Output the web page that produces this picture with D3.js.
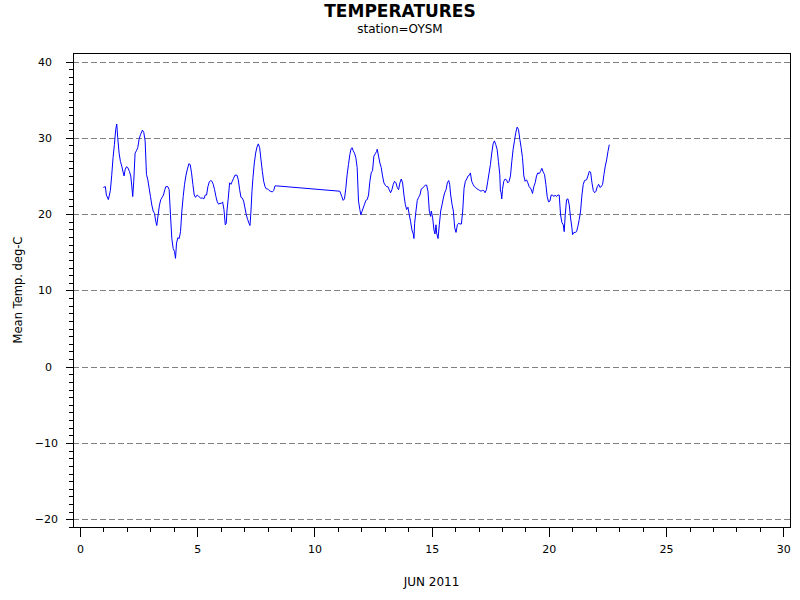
<!DOCTYPE html>
<html>
<head>
<meta charset="utf-8">
<script src="https://cdn.jsdelivr.net/npm/d3@7"></script>
<style>
  body { margin: 0; background: #fff; }
  svg { display: block; }
</style>
</head>
<body>
<svg id="chart" width="800" height="600"></svg>
<script>
// hourly-ish mean temperature readings, [day of June, deg C]
const part1 = [
  [0.996,23.5],[1.083,23.6],[1.125,22.5],[1.21,21.9],[1.296,23.1],[1.353,25.1],[1.41,27.4],
  [1.467,29.1],[1.524,31.1],[1.567,31.8],[1.61,30.0],[1.667,28.0],[1.724,26.9],[1.781,26.3],
  [1.838,25.5],[1.88,25.0],[1.923,25.8],[1.98,26.2],[2.037,26.1],[2.108,25.6],[2.165,25.0],
  [2.208,23.7],[2.25,22.3],[2.293,24.3],[2.35,28.0],[2.407,28.3],[2.464,28.7],[2.521,29.8],
  [2.578,30.4],[2.664,31.0],[2.721,30.7],[2.778,29.6],[2.835,25.2],[2.892,24.5],[2.949,23.4],
  [3.006,22.3],[3.063,21.2],[3.12,20.4],[3.177,20.1],[3.234,19.0],[3.276,18.5],[3.333,19.9],
  [3.39,21.2],[3.447,21.9],[3.504,22.2],[3.561,22.5],[3.618,23.2],[3.66,23.6],[3.746,23.6],
  [3.803,23.2],[3.86,19.9],[3.917,16.8],[3.974,15.5],[4.031,15.1],[4.074,14.2],[4.117,16.2],
  [4.174,16.9],[4.231,16.8],[4.288,17.7],[4.345,20.4],[4.402,22.3],[4.459,23.9],[4.516,25.0],
  [4.573,25.8],[4.644,26.6],[4.701,26.5],[4.758,25.4],[4.815,23.9],[4.872,22.5],[4.929,22.2],
  [5.0,22.5],[5.071,22.3],[5.142,22.1],[5.228,22.1],[5.285,22.0],[5.342,22.5],[5.399,22.5],
  [5.456,23.6],[5.513,24.2],[5.57,24.4],[5.627,24.3],[5.684,23.9],[5.741,23.2],[5.798,22.3],
  [5.855,21.6],[5.912,21.3],[5.969,21.4],[6.026,21.4],[6.083,21.6],[6.14,20.6]
];
const part2 = [
  [6.197,18.6],[6.24,18.8],[6.268,20.4],[6.325,22.1],[6.382,24.1],[6.439,23.9],[6.496,24.3],
  [6.553,24.7],[6.61,25.1],[6.695,25.1],[6.752,24.5],[6.809,23.2],[6.866,22.2],[6.923,22.1],
  [6.98,21.7],[7.037,20.8],[7.094,19.9],[7.151,19.3],[7.208,18.8],[7.251,18.5],[7.293,20.4],
  [7.336,23.0],[7.379,24.8],[7.436,26.7],[7.493,28.0],[7.55,28.8],[7.607,29.2],[7.664,28.7],
  [7.721,27.1],[7.778,25.6],[7.835,24.3],[7.892,23.6],[7.949,23.3],[8.006,23.3],[8.063,23.1],
  [8.12,23.0],[8.205,22.9],[8.262,23.1],[8.319,23.7],[8.376,23.7],[11.083,23.0]
];
const part3 = [
  [11.168,22.3],[11.225,21.8],[11.282,22.0],[11.339,23.4],[11.396,25.2],[11.453,26.5],
  [11.51,27.8],[11.567,28.6],[11.61,28.7],[11.652,28.3],[11.709,28.0],[11.766,27.4],
  [11.823,26.1],[11.88,21.7],[11.937,20.6],[11.98,19.9],[12.023,20.3],[12.08,20.8],
  [12.137,21.3],[12.194,21.8],[12.251,21.9],[12.308,22.5],[12.365,24.3],[12.422,25.4],
  [12.479,25.7],[12.536,27.6],[12.593,27.9],[12.65,28.2],[12.678,28.5],[12.735,27.6],
  [12.792,26.7],[12.849,26.1],[12.906,25.0],[12.963,24.1],[13.02,23.8],[13.077,23.6],
  [13.134,23.6],[13.191,23.2],[13.248,22.8],[13.305,23.2],[13.362,23.9],[13.419,24.3],
  [13.476,24.1],[13.533,23.5],[13.59,23.2],[13.647,24.1],[13.704,24.6],[13.761,24.1],
  [13.818,22.5],[13.875,21.3],[13.932,20.6],[13.989,20.9],[14.046,19.9],[14.103,19.0],
  [14.16,17.9],[14.217,17.4],[14.245,16.8],[14.274,18.8],[14.331,20.4],[14.387,21.8],
  [14.444,22.2],[14.501,22.5],[14.558,23.3],[14.615,23.4],[14.672,23.6],[14.729,23.8],
  [14.786,23.8],[14.843,23.0],[14.9,20.4],[14.957,19.7],[14.986,20.4],[15.043,19.5],
  [15.1,17.9],[15.142,17.4],[15.185,18.6],[15.214,17.5],[15.271,16.8],[15.328,18.6],
  [15.385,20.4],[15.442,21.2],[15.499,22.1],[15.556,22.8],[15.613,23.2],[15.67,24.1],
  [15.727,24.4],[15.769,23.9],[15.812,22.5],[15.869,21.3],[15.926,20.4],[15.983,18.2],
  [16.04,17.6],[16.097,18.6],[16.154,18.8],[16.211,18.7],[16.268,18.7],[16.325,20.4],
  [16.382,23.4],[16.439,24.3],[16.496,24.6],[16.553,25.0],[16.61,25.1],[16.652,25.4]
];
const part4 = [
  [16.709,24.3],[16.766,23.9],[16.823,23.6],[16.88,23.5],[16.937,23.3],[16.994,23.2],
  [17.051,23.1],[17.108,23.0],[17.165,23.1],[17.222,23.1],[17.279,22.8],[17.336,23.2],
  [17.393,24.3],[17.45,25.4],[17.507,26.5],[17.564,28.0],[17.621,29.2],[17.678,29.6],
  [17.735,29.1],[17.792,28.5],[17.849,26.9],[17.906,25.2],[17.934,23.0],[17.963,22.8],
  [17.991,22.0],[18.02,23.2],[18.077,24.3],[18.134,24.6],[18.191,24.5],[18.248,24.1],
  [18.305,24.3],[18.362,25.0],[18.419,26.9],[18.476,28.5],[18.533,29.6],[18.59,30.7],
  [18.647,31.4],[18.704,31.1],[18.761,29.8],[18.818,28.7],[18.875,27.4],[18.932,25.0],
  [18.989,24.3],[19.046,24.5],[19.103,24.1],[19.16,23.6],[19.217,23.4],[19.274,23.0],
  [19.302,22.7],[19.359,23.6],[19.416,24.1],[19.473,25.0],[19.53,25.4],[19.587,25.3],
  [19.644,25.6],[19.701,26.0],[19.758,25.5],[19.815,25.2],[19.872,23.9],[19.929,22.3],
  [19.986,21.6],[20.043,21.7],[20.1,22.5],[20.157,22.5],[20.214,22.3],[20.271,22.5],
  [20.328,22.3],[20.385,22.5],[20.442,22.5],[20.47,21.2],[20.499,19.9],[20.556,18.9],
  [20.613,18.6],[20.655,17.7],[20.698,19.9],[20.755,21.9],[20.812,22.0],[20.869,21.2],
  [20.926,19.5],[20.983,18.2],[21.011,17.3],[21.068,17.6],[21.125,17.6],[21.182,17.7],
  [21.239,18.4],[21.296,19.3],[21.353,20.4],[21.41,22.5],[21.467,23.9],[21.524,24.4],
  [21.61,24.5],[21.667,25.0],[21.724,25.6],[21.781,25.5],[21.838,24.1],[21.895,23.1],
  [21.952,22.8],[22.009,23.0],[22.066,23.6],[22.123,23.9],[22.18,23.5],[22.236,23.6],
  [22.293,23.9],[22.35,25.2],[22.407,26.3],[22.464,27.1],[22.521,28.2],[22.578,29.1]
];

const xMajor = [0, 5, 10, 15, 20, 25, 30]
const xMinor = d3.range(0, 31, 1)
const yMajor = [-20, -10, 0, 10, 20, 30, 40]
const yMinor = d3.range(-21, 41, 1)

const titleText = "TEMPERATURES"
const subText = "station=OYSM"
const xLabel = "JUN 2011"
const yLabel = "Mean Temp. deg-C"

const data = part1.concat(part2, part3, part4)

// plot box in pixels
const box = {left: 73, right: 790, top: 53, bottom: 527}
const font = "DejaVu Sans, Verdana, sans-serif"

const x = d3.scaleLinear().domain([0, 30]).range([80, 783.3])
const y = d3.scaleLinear().domain([-20, 40]).range([519.3, 61.5])

const svg = d3.select("#chart")

svg.append("text")
    .attr("x", 400).attr("y", 17)
    .attr("text-anchor", "middle")
    .attr("font-family", font)
    .attr("font-weight", "bold")
    .attr("font-size", 17)
    .text(titleText)

svg.append("text")
    .attr("x", 400).attr("y", 33)
    .attr("text-anchor", "middle")
    .attr("font-family", font)
    .attr("font-size", 12)
    .text(subText)

// dashed reference lines
svg.append("g")
  .selectAll("line")
  .data(yMajor)
  .join("line")
    .attr("x1", box.left).attr("x2", box.right)
    .attr("y1", d => Math.round(y(d)) + 0.5)
    .attr("y2", d => Math.round(y(d)) + 0.5)
    .attr("stroke", "#808080")
    .attr("stroke-dasharray", "6,3")
    .attr("shape-rendering", "crispEdges")

// x axis: day minor ticks then labelled majors
svg.append("g")
    .attr("transform", `translate(0,${box.bottom})`)
    .call(d3.axisBottom(x).tickValues(xMinor).tickSize(5).tickFormat(""))
    .call(g => g.select(".domain").remove())

svg.append("g")
    .attr("transform", `translate(0,${box.bottom})`)
    .call(d3.axisBottom(x).tickValues(xMajor).tickSize(10).tickPadding(8).tickFormat(d3.format("d")))
    .call(g => g.select(".domain").remove())
    .call(g => g.selectAll("text").attr("font-family", font).attr("font-size", 11))

// y axis
svg.append("g")
    .attr("transform", `translate(${box.left},0)`)
    .call(d3.axisLeft(y).tickValues(yMinor).tickSize(4).tickFormat(""))
    .call(g => g.select(".domain").remove())

svg.append("g")
    .attr("transform", `translate(${box.left},0)`)
    .call(d3.axisLeft(y).tickValues(yMajor).tickSize(7).tickPadding(8).tickFormat(d3.format("d")))
    .call(g => g.select(".domain").remove())
    .call(g => g.selectAll("text").attr("font-family", font).attr("font-size", 11)
        .attr("dx", d => d >= 0 ? -6 : 0))

svg.selectAll(".tick line").attr("shape-rendering", "crispEdges")

svg.append("rect")
    .attr("x", box.left + 0.5).attr("y", box.top + 0.5)
    .attr("width", box.right - box.left).attr("height", box.bottom - box.top)
    .attr("fill", "none")
    .attr("stroke", "black")
    .attr("shape-rendering", "crispEdges")

const line = d3.line()
    .x(d => x(d[0]))
    .y(d => y(d[1]))

svg.append("path")
    .datum(data)
    .attr("fill", "none")
    .attr("stroke", "#0000ff")
    .attr("stroke-width", 1)
    .attr("stroke-linejoin", "round")
    .attr("d", line)

svg.append("text")
    .attr("x", (box.left + box.right) / 2).attr("y", 586)
    .attr("text-anchor", "middle")
    .attr("font-family", font)
    .attr("font-size", 12)
    .text(xLabel)

svg.append("text")
    .attr("transform", `translate(22,${(box.top + box.bottom) / 2}) rotate(-90)`)
    .attr("text-anchor", "middle")
    .attr("font-family", font)
    .attr("font-size", 11.5)
    .text(yLabel)
</script>
</body>
</html>
